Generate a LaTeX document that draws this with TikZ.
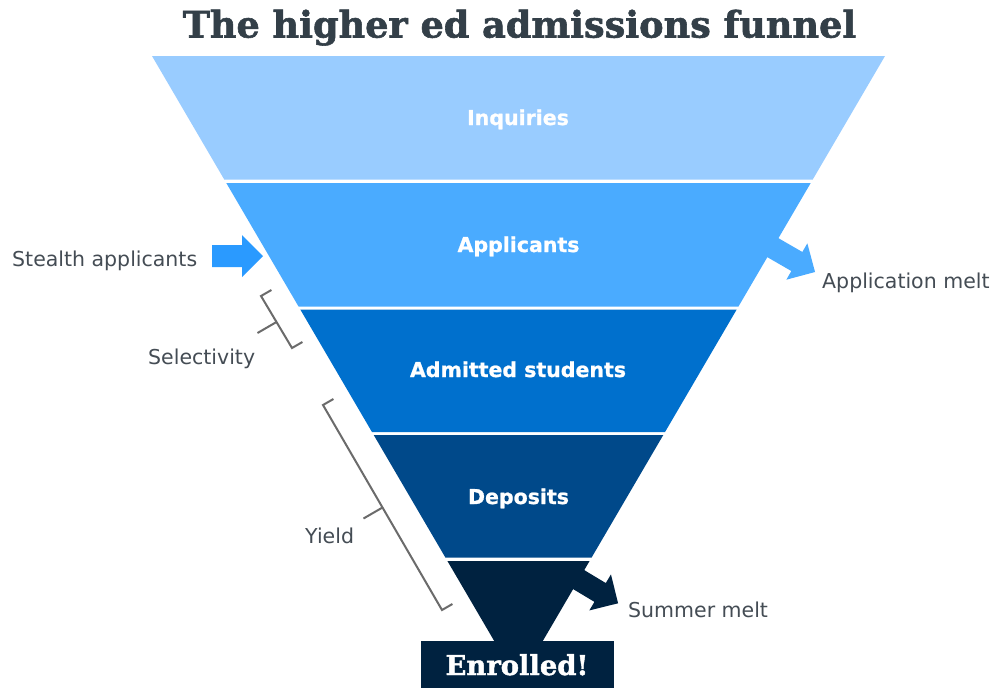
\documentclass[tikz,border=0pt]{standalone}
\usepackage{fontspec}
\setmainfont{DejaVu Sans}
\newfontfamily\slabfont{DejaVu Serif}[BoldFeatures={FakeBold=1.6}]
\newfontfamily\bandfont{DejaVu Sans}[BoldFeatures={FakeBold=1.0}]
\usetikzlibrary{calc}
\definecolor{bandA}{HTML}{99CCFF}
\definecolor{bandB}{HTML}{4AABFF}
\definecolor{bandC}{HTML}{0070CD}
\definecolor{bandD}{HTML}{00498A}
\definecolor{bandE}{HTML}{002240}
\definecolor{arrowblue}{HTML}{2A9AFF}
\definecolor{titlegray}{HTML}{333F48}
\definecolor{labelgray}{HTML}{444C54}
\definecolor{bracketgray}{HTML}{6B6B6B}
\tikzset{
  bandlabel/.style={anchor=base, text=white, font=\bandfont\fontsize{20.5}{24}\selectfont\bfseries, inner sep=0pt},
  sidelabel/.style={anchor=base west, text=labelgray, font=\fontsize{20.5}{24}\selectfont, inner sep=0pt},
  bracketline/.style={draw=bracketgray, line width=2pt, line join=miter},
  declare function={hw(\y)=366.5-0.585*(\y-56);}
}
\newcommand{\blockarrow}[4]{% start, angle, length, colour
  \begin{scope}[shift={#1}, rotate=#2]
    \fill[#4] (0,-11) -- ({#3-21},-11) -- ({#3-21},-21) -- (#3,0) -- ({#3-21},21) -- ({#3-21},11) -- (0,11) -- cycle;
  \end{scope}}
\newcommand{\funnelband}[3]{% top, bottom, colour
  \fill[#3] ({518.5-hw(#1)},#1) -- ({518.5+hw(#1)},#1) -- ({518.5+hw(#2)},#2) -- ({518.5-hw(#2)},#2) -- cycle;}
\begin{document}
\begin{tikzpicture}[x=1pt,y=-1pt]
\useasboundingbox (0,0) rectangle (998,689);
\fill[white] (0,0) rectangle (998,689);
% title
\node[anchor=base, text=titlegray, font=\slabfont\fontsize{36.6}{40}\selectfont\bfseries, inner sep=0pt] (title) at (519.5,37.5) {The higher ed admissions funnel};
% arrows (behind bands)
\blockarrow{(212,256)}{0}{51}{arrowblue}
\blockarrow{(764.8,243)}{-30}{58}{bandB}
\blockarrow{(568.4,573.4)}{-31}{58}{bandE}
% bands
\funnelband{56}{179.5}{bandA}
\funnelband{183}{306.5}{bandB}
\funnelband{309.5}{432}{bandC}
\funnelband{435}{557.5}{bandD}
\funnelband{561}{641}{bandE}
\fill[bandE] (421,640.5) rectangle (614,688);
% band labels
\node[bandlabel] (inq) at (518,125) {Inquiries};
\node[bandlabel] (app) at (518.5,252) {Applicants};
\node[bandlabel] (adm) at (518,377) {Admitted students};
\node[bandlabel] (dep) at (518.5,504) {Deposits};
\node[anchor=base, text=white, font=\slabfont\fontsize{27.4}{30}\selectfont\bfseries, inner sep=0pt] (enr) at (517,675) {Enrolled!};
% side labels
\node[sidelabel] (stealth) at (12,266.5) {Stealth applicants};
\node[sidelabel] (melt) at (822,288) {Application melt};
\node[sidelabel] (sel) at (148,364) {Selectivity};
\node[sidelabel] (yield) at (305,543) {Yield};
\node[sidelabel] (summer) at (628,617) {Summer melt};
% brackets
\draw[bracketline] ($(261,296)+(10.4,-6)$) -- (261,296) -- (292,348) -- ($(292,348)+(10.4,-6)$);
\draw[bracketline] (276.5,322) -- (257.5,333);
\draw[bracketline] ($(323,405)+(10.4,-6)$) -- (323,405) -- (442,610) -- ($(442,610)+(10.4,-6)$);
\draw[bracketline] (382.5,507.5) -- (363.5,518.5);
\end{tikzpicture}
\end{document}
